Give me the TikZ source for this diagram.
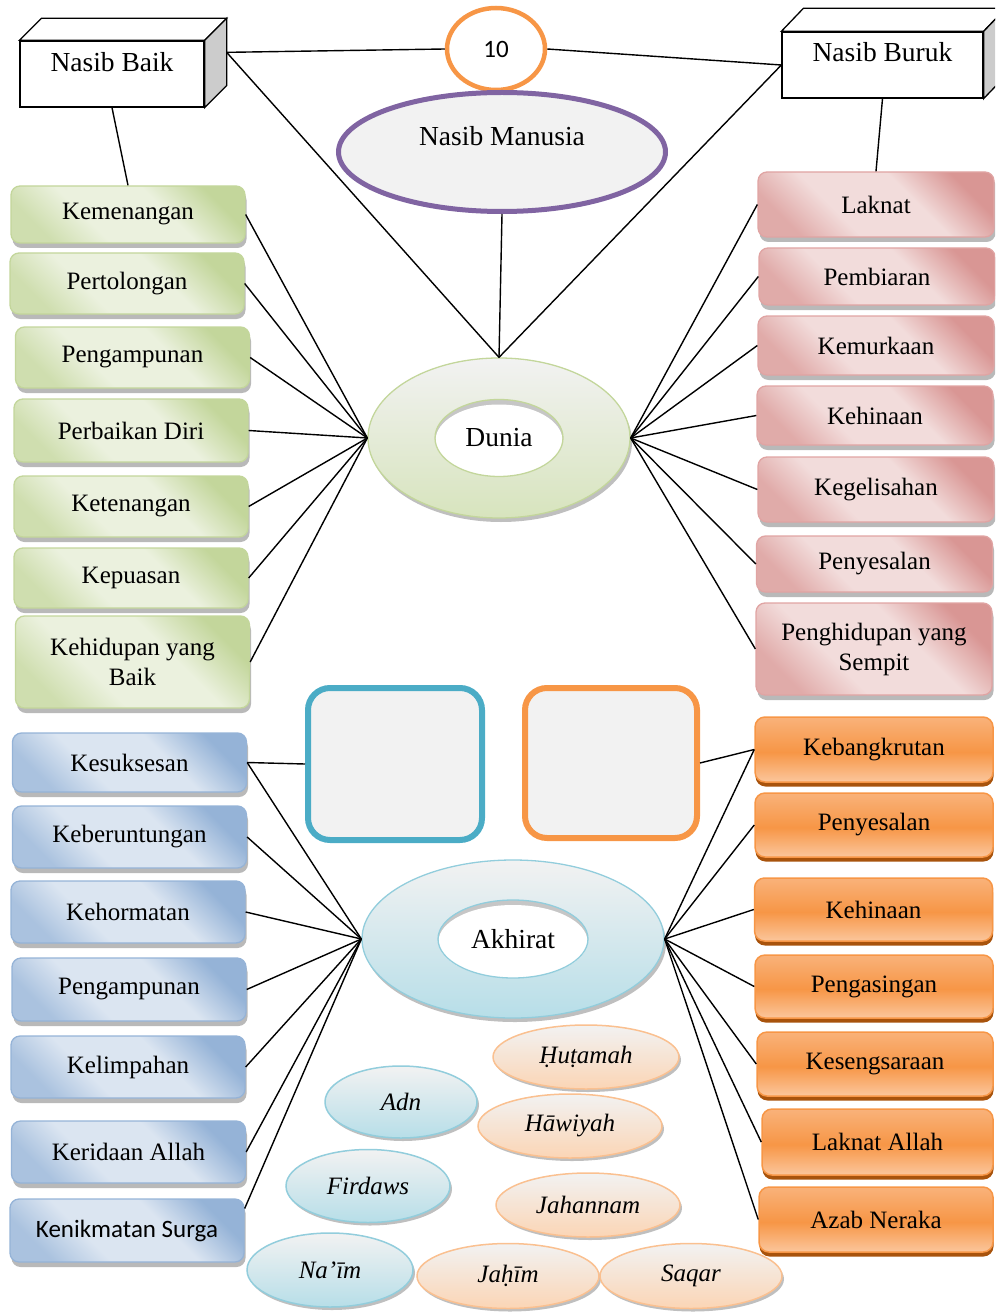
\documentclass[tikz,border=0pt]{standalone}
\usepackage{fontspec}
\setmainfont{Liberation Serif}
\newfontfamily\calibrifont{Carlito}
\usetikzlibrary{shapes.geometric,shadows,calc}

\definecolor{gD}{HTML}{C3D69B}
\definecolor{gL}{HTML}{EBF1DE}
\definecolor{rD}{HTML}{D99694}
\definecolor{rL}{HTML}{F2DCDB}
\definecolor{rB}{HTML}{E0A4A3}
\definecolor{bD}{HTML}{95B3D7}
\definecolor{bL}{HTML}{DBE5F1}
\definecolor{oT}{HTML}{F9B27A}
\definecolor{oM}{HTML}{F79646}
\definecolor{oB}{HTML}{FBC69C}
\definecolor{oS}{HTML}{A8530C}
\definecolor{purp}{HTML}{8064A2}
\definecolor{cyanB}{HTML}{4BACC6}
\definecolor{paleG}{HTML}{F2F2F2}
\definecolor{donG}{HTML}{D7E4BD}
\definecolor{donB}{HTML}{B7DEE8}
\definecolor{elB}{HTML}{92CDDC}
\definecolor{elO}{HTML}{FBD5B5}
\definecolor{elOB}{HTML}{FAC090}

% diagonal ribbon gradients for the label boxes
\pgfdeclarehorizontalshading{ribgreen}{100bp}{color(0bp)=(gD!70!gL); color(25bp)=(gD!70!gL); color(39bp)=(gL); color(60bp)=(gL); color(75bp)=(gD); color(100bp)=(gD)}
\pgfdeclarehorizontalshading{ribred}{100bp}{color(0bp)=(rD!70!rL); color(25bp)=(rD!70!rL); color(39bp)=(rL); color(60bp)=(rL); color(75bp)=(rD); color(100bp)=(rD)}
\pgfdeclarehorizontalshading{ribblue}{100bp}{color(0bp)=(bD!70!bL); color(25bp)=(bD!70!bL); color(39bp)=(bL); color(60bp)=(bL); color(75bp)=(bD); color(100bp)=(bD)}
\pgfdeclareverticalshading{ribor}{100bp}{color(0bp)=(oB); color(25bp)=(oB); color(48bp)=(oM); color(75bp)=(oT); color(100bp)=(oT)}

% text lifted inside a node without changing its box
\newcommand\lift[2]{\raisebox{#1}[0pt][0pt]{#2}}

\begin{document}
\begin{tikzpicture}[x=1pt,y=-1pt,
  base/.style={font=\fontsize{25}{30}\selectfont, align=center, inner sep=0pt},
  big/.style={font=\fontsize{27.5}{32}\selectfont, inner sep=0pt},
  rib/.style={base, rectangle, rounded corners=9pt, line width=1.3pt,
    minimum width=234pt, shade, shading angle=45,
    general shadow={fill=gray!55, shadow xshift=1.5pt, shadow yshift=-5pt}},
  gbox/.style={rib, draw=gD, shading=ribgreen},
  rbox/.style={rib, draw=rB, shading=ribred, minimum width=236pt},
  bbox/.style={rib, draw=bD, shading=ribblue},
  obox/.style={base, rectangle, rounded corners=10pt, line width=1.5pt,
    minimum width=238pt, draw=oM, shade, shading=ribor,
    general shadow={fill=oS, shadow xshift=0.5pt, shadow yshift=-4.5pt}},
  cube/.style={big, rectangle, draw, line width=1.3pt, fill=white},
  donut/.style={ellipse, line width=1.3pt, top color=paleG,
    general shadow={fill=gray!50, shadow xshift=2pt, shadow yshift=-4pt}},
  hole/.style={base, ellipse, line width=1.3pt, font=\fontsize{27.5}{32}\selectfont},
  emptybox/.style={rectangle, rounded corners=22pt, line width=6pt, fill=paleG},
  place/.style={ellipse, inner sep=0pt, line width=1.5pt, top color=paleG,
    font=\itshape\fontsize{25}{30}\selectfont,
    general shadow={fill=gray!50, shadow xshift=2pt, shadow yshift=-3pt}},
  heaven/.style={place, draw=elB, bottom color=donB},
  hell/.style={place, draw=elOB, bottom color=elO},
  con/.style={line width=1.4pt}]
\useasboundingbox (0,0) rectangle (995,1313);
\clip (0,0) rectangle (995,1313);

% ---------- top: the two destinies ----------
\node[cube, minimum width=184pt, minimum height=66pt] (nb) at (112,74) {\lift{2pt}{Nasib Baik}};
\filldraw[fill=white, line width=1.3pt] (nb.north west) -- ($(nb.north west)+(22,-22)$)
  -- ($(nb.north east)+(22,-22)$) -- (nb.north east) -- cycle;
\filldraw[fill=gray!40, line width=1.3pt] (nb.north east) -- ($(nb.north east)+(22,-22)$)
  -- ($(nb.south east)+(22,-22)$) -- (nb.south east) -- cycle;

\node[cube, minimum width=201pt, minimum height=66pt] (nbr) at (882.5,65) {\lift{3pt}{Nasib Buruk}};
\filldraw[fill=white, line width=1.3pt] (nbr.north west) -- ($(nbr.north west)+(22,-23)$)
  -- ($(nbr.north east)+(22,-23)$) -- (nbr.north east) -- cycle;
\filldraw[fill=gray!40, line width=1.3pt] (nbr.north east) -- ($(nbr.north east)+(22,-23)$)
  -- ($(nbr.south east)+(22,-23)$) -- (nbr.south east) -- cycle;

\node[ellipse, draw=oM, line width=4.5pt, fill=white, minimum width=98pt, minimum height=82pt,
  inner sep=0pt, font=\calibrifont\fontsize{25}{30}\selectfont] (ten) at (496,49) {10};

\node[ellipse, draw=purp, line width=5pt, fill=paleG, minimum width=327pt, minimum height=119pt,
  big] (nm) at (502,152) {\lift{6pt}{Nasib Manusia}};

\coordinate (nbport) at ($(nb.north east)+(22,12)$);

% ---------- Dunia ----------
\node[donut, draw=gD, bottom color=donG, minimum width=262pt, minimum height=160pt] (dunia) at (499,438) {};
\fill[gray!45] (499,438) ellipse [x radius=64pt, y radius=38.5pt];
\fill[white] (499,440.5) ellipse [x radius=63.5pt, y radius=36pt];
\node[hole, draw=gD, minimum width=128pt, minimum height=77pt] (dhole) at (499,438) {Dunia};

% green: good destiny in this world
\node[gbox, minimum height=57pt] (g1) at (128,214.5) {Kemenangan};
\node[gbox, minimum height=61pt] (g2) at (127,283.5) {Pertolongan};
\node[gbox, minimum height=61pt] (g3) at (132.5,357.5) {Pengampunan};
\node[gbox, minimum height=63pt] (g4) at (131,430.5) {Perbaikan Diri};
\node[gbox, minimum height=61pt] (g5) at (131,506.5) {Ketenangan};
\node[gbox, minimum height=60pt] (g6) at (131,578) {Kepuasan};
\node[gbox, minimum height=92pt] (g7) at (132.5,662) {Kehidupan yang\\Baik};

% red: bad destiny in this world
\node[rbox, minimum height=65pt] (r1) at (876,204.5) {Laknat};
\node[rbox, minimum height=57pt] (r2) at (877,276.5) {Pembiaran};
\node[rbox, minimum height=59pt] (r3) at (876,345.5) {Kemurkaan};
\node[rbox, minimum height=59pt] (r4) at (875,415.5) {Kehinaan};
\node[rbox, minimum height=65pt] (r5) at (876,489.5) {Kegelisahan};
\node[rbox, minimum height=56pt] (r6) at (874.5,564) {Penyesalan};
\node[rbox, minimum height=92pt] (r7) at (874,649) {Penghidupan yang\\Sempit};

% ---------- Akhirat ----------
\node[emptybox, draw=cyanB, minimum width=174pt, minimum height=152pt] (sqb) at (395,764) {};
\node[emptybox, draw=oM, minimum width=172pt, minimum height=150pt] (sqo) at (611,763) {};

\node[donut, draw=elB, bottom color=donB, minimum width=302pt, minimum height=158pt] (akhirat) at (513,939) {};
\fill[gray!45] (513,939) ellipse [x radius=75pt, y radius=39pt];
\fill[white] (513,941.5) ellipse [x radius=74.5pt, y radius=36.5pt];
\node[hole, draw=elB, minimum width=150pt, minimum height=78pt] (ahole) at (513,939) {Akhirat};

% blue: good destiny in the hereafter
\node[bbox, minimum height=59pt] (b1) at (129.5,762.5) {Kesuksesan};
\node[bbox, minimum height=62pt] (b2) at (129.5,837) {Keberuntungan};
\node[bbox, minimum height=62pt] (b3) at (128,912) {Kehormatan};
\node[bbox, minimum height=63pt] (b4) at (129,989.5) {Pengampunan};
\node[bbox, minimum height=62pt] (b5) at (128,1067) {Kelimpahan};
\node[bbox, minimum height=62pt] (b6) at (128.5,1152) {Keridaan Allah};
\node[bbox, minimum height=63pt, font=\calibrifont\fontsize{25}{30}\selectfont] (b7) at (127,1230.5) {Kenikmatan Surga};

% orange: bad destiny in the hereafter
\node[obox, minimum height=65pt] (o1) at (874,749.5) {Kebangkrutan};
\node[obox, minimum height=64pt] (o2) at (874,825) {Penyesalan};
\node[obox, minimum height=63pt] (o3) at (873.5,909.5) {Kehinaan};
\node[obox, minimum height=63pt] (o4) at (874,986.5) {Pengasingan};
\node[obox, minimum height=64pt, minimum width=236pt] (o5) at (875,1064) {Kesengsaraan};
\node[obox, minimum height=66pt, minimum width=231pt] (o6) at (877.5,1142) {Laknat Allah};
\node[obox, minimum height=65pt, minimum width=234pt] (o7) at (876,1219.5) {Azab Neraka};

% names of paradise and hell
\node[hell, minimum width=186pt, minimum height=64pt] (e1) at (586,1057) {Ḥuṭamah};
\node[heaven, minimum width=152pt, minimum height=72pt] (e2) at (401,1102) {Adn};
\node[hell, minimum width=184pt, minimum height=64pt] (e3) at (570,1126) {Hāwiyah};
\node[heaven, minimum width=164pt, minimum height=73pt] (e4) at (368,1186) {Firdaws};
\node[hell, minimum width=184pt, minimum height=64pt] (e5) at (588,1205) {Jahannam};
\node[heaven, minimum width=166pt, minimum height=74pt] (e6) at (330,1270) {Na’īm};
\node[hell, minimum width=182pt, minimum height=65pt] (e7) at (508,1276) {Jaḥīm};
\node[hell, minimum width=182pt, minimum height=65pt] (e8) at (691,1276) {Saqar};

% ---------- connectors ----------
\draw[con] (nbport) -- (ten.west);
\draw[con] (ten.east) -- (nbr.west);
\draw[con] (nbport) -- (dunia.north);
\draw[con] (nbr.west) -- (dunia.north);
\draw[con] (nm.south) -- (dunia.north);
\draw[con] (nb.south) -- (g1.north);
\draw[con] (nbr.south) -- (r1.north);

\foreach \n in {g1,g2,g3,g4,g5,g6,g7} \draw[con] (dunia.west) -- (\n.east);
\foreach \n in {r1,r2,r3,r4,r5,r6,r7} \draw[con] (dunia.east) -- (\n.west);

\foreach \n in {b1,b2,b3,b4,b5,b6} \draw[con] (akhirat.west) -- (\n.east);
\draw[con] (akhirat.west) -- ([yshift=22pt]b7.east);
\foreach \n in {o1,o2,o3,o4,o5,o6,o7} \draw[con] (akhirat.east) -- (\n.west);

\draw[con] (b1.east) -- (sqb.west);
\draw[con] (sqo.east) -- (o1.west);
\end{tikzpicture}
\end{document}
